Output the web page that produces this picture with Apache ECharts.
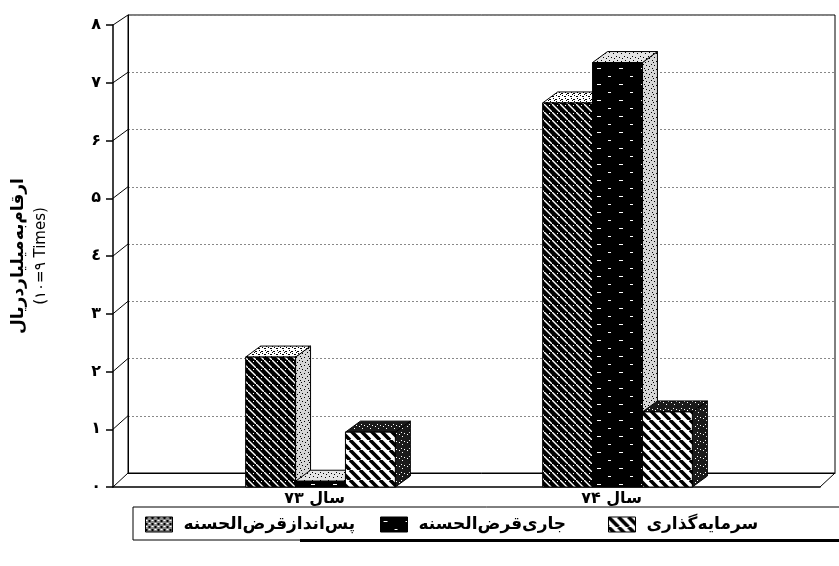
<!DOCTYPE html>
<html><head><meta charset="utf-8">
<script src="https://cdn.jsdelivr.net/npm/echarts@6/dist/echarts.min.js"></script>
<style>html,body{margin:0;padding:0;background:#fff}#c{width:839px;height:566px}</style>
</head><body><div id="c"></div>
<script>
// ---- data ----
const categories = ['سال ۷۳', 'سال ۷۴'];
const seriesNames = ['پس‌اندازقرض‌الحسنه', 'جاری‌قرض‌الحسنه', 'سرمایه‌گذاری'];
const savingsValues = [2.25, 6.65];
const currentValues = [0.1, 7.35];
const investValues = [0.95, 1.3];
const yTickLabels = ['۰', '۱', '۲', '۳', '٤', '۵', '۶', '۷', '۸'];
const yAxisTitle = 'ارقام‌به‌میلیارد‌ریال';
const yAxisSub = '(۱۰=۹ Times)';

// ---- patterns ----
function pat(w, h, draw) {
  const c = document.createElement('canvas'); c.width = w; c.height = h;
  const g = c.getContext('2d'); draw(g, w, h);
  return { image: c, repeat: 'repeat' };
}
function stipple(bg, dot, step, seedShift) {
  return pat(8, 8, (g, w, h) => {
    g.fillStyle = bg; g.fillRect(0, 0, w, h);
    g.fillStyle = dot;
    const pts = [[0,0],[3,1],[6,2],[1,4],[5,5],[2,6],[7,7],[4,3]];
    pts.slice(0, step).forEach(p => g.fillRect((p[0] + seedShift) % 8, p[1], 1, 1));
  });
}
const diagWhite = pat(8, 8, (g, w, h) => {
  g.fillStyle = '#000'; g.fillRect(0, 0, w, h);
  g.strokeStyle = '#fff'; g.lineWidth = 1.4;
  g.beginPath(); g.moveTo(-1, -1); g.lineTo(9, 9); g.stroke();
  g.fillStyle = '#fff'; g.fillRect(5, 1, 1, 1);
});
const darkDashes = pat(22, 16, (g, w, h) => {
  g.fillStyle = '#000'; g.fillRect(0, 0, w, h);
  g.fillStyle = '#fff'; g.fillRect(3, 4, 4, 1); g.fillRect(14, 12, 3, 1);
});
const stripes = pat(10, 10, (g, w, h) => {
  g.fillStyle = '#fff'; g.fillRect(0, 0, w, h);
  g.strokeStyle = '#000'; g.lineWidth = 3.6;
  g.beginPath();
  g.moveTo(-10, 0); g.lineTo(0, 10);
  g.moveTo(0, 0); g.lineTo(10, 10);
  g.moveTo(10, 0); g.lineTo(20, 10);
  g.stroke();
});
const crossHatch = pat(6, 6, (g, w, h) => {
  g.fillStyle = '#fff'; g.fillRect(0, 0, w, h);
  g.fillStyle = '#000';
  g.fillRect(0, 0, 2, 1); g.fillRect(3, 3, 2, 1); g.fillRect(1, 2, 1, 1); g.fillRect(4, 5, 1, 1); g.fillRect(2, 4, 1, 1);
});
const legendHatch = pat(6, 6, (g, w, h) => {
  g.fillStyle = '#888'; g.fillRect(0, 0, w, h);
  g.fillStyle = '#000';
  g.fillRect(0, 0, 2, 2); g.fillRect(3, 3, 2, 2);
  g.fillStyle = '#fff';
  g.fillRect(3, 0, 2, 1); g.fillRect(0, 3, 2, 1);
});
const lightStip = stipple('#e4e4e4', '#000', 5, 0);
const lightStip2 = stipple('#d6d6d6', '#000', 6, 3);
const darkStip = stipple('#1a1a1a', '#fff', 4, 1);

const faceStyles = [
  { front: diagWhite, top: crossHatch, side: lightStip2 },
  { front: darkDashes, top: lightStip, side: lightStip2 },
  { front: stripes, top: darkStip, side: darkStip }
];
const legendColors = [legendHatch, darkDashes, stripes];
const legendLefts = [140, 375, 603];

const DX = 15, DY = -11;

function makeRender(si) {
  return function (params, api) {
    const cat = api.value(0), v = api.value(1);
    const base = api.coord([cat, 0]);
    const top = api.coord([cat, v]);
    const band = api.size([1, 0])[0];
    const bw = band * 0.168;
    const x0 = base[0] + DX * 0.4 + (si - 1.5) * bw;
    const x1 = x0 + bw, yb = base[1], yt = top[1];
    const st = faceStyles[si];
    return {
      type: 'group',
      children: [
        { type: 'polygon', shape: { points: [[x1, yb], [x1 + DX, yb + DY], [x1 + DX, yt + DY], [x1, yt]] },
          style: { fill: st.side, stroke: '#000', lineWidth: 1 } },
        { type: 'polygon', shape: { points: [[x0, yt], [x1, yt], [x1 + DX, yt + DY], [x0 + DX, yt + DY]] },
          style: { fill: st.top, stroke: '#000', lineWidth: 1 } },
        { type: 'rect', shape: { x: x0, y: yt, width: bw, height: yb - yt },
          style: { fill: st.front, stroke: '#000', lineWidth: 1 } }
      ]
    };
  };
}

const allValues = [savingsValues, currentValues, investValues];
const FONT = 'DejaVu Sans';

const chart = echarts.init(document.getElementById('c'), null, { renderer: 'canvas' });
const option = {
  animation: false,
  backgroundColor: '#fff',
  textStyle: { fontFamily: FONT },
  grid: [
    { left: 128, right: 4, top: 15, bottom: 93, show: true, borderColor: '#000', borderWidth: 1, backgroundColor: 'transparent' },
    { left: 113, right: 19, top: 25, bottom: 79 },
    { left: 166, right: 79, top: 25, bottom: 79 }
  ],
  xAxis: [
    { gridIndex: 0, type: 'category', data: categories, axisLine: { show: true, lineStyle: { color: '#000' } }, axisTick: { show: false }, axisLabel: { show: false } },
    { gridIndex: 1, type: 'category', data: categories, axisLine: { show: true, lineStyle: { color: '#000', width: 1.5 } }, axisTick: { show: false }, axisLabel: { show: false } },
    { gridIndex: 2, type: 'category', data: categories, axisLine: { show: false }, axisTick: { show: false },
      axisLabel: { show: true, color: '#000', fontFamily: FONT, fontWeight: 'bold', fontSize: 16, lineHeight: 18, margin: 3 } }
  ],
  yAxis: [
    { gridIndex: 0, type: 'value', min: 0, max: 8, interval: 1, axisLine: { show: true, lineStyle: { color: '#000' } },
      axisTick: { show: false }, axisLabel: { show: false },
      splitLine: { show: true, lineStyle: { color: '#888', type: [2, 2], width: 1 } } },
    { gridIndex: 1, type: 'value', min: 0, max: 8, interval: 1,
      axisLine: { show: true, lineStyle: { color: '#000', width: 1.5 } },
      axisTick: { show: true, inside: false, length: 7, lineStyle: { color: '#000', width: 1.5 } },
      axisLabel: { show: true, color: '#000', fontFamily: FONT, fontWeight: 'bold', fontSize: 16, margin: 12,
        formatter: (val) => yTickLabels[Math.round(val)] },
      splitLine: { show: false },
      name: '{a|' + yAxisTitle + '}\n{b|' + yAxisSub + '}',
      nameLocation: 'middle', nameRotate: 90, nameGap: 60,
      nameTextStyle: { color: '#000', fontFamily: FONT,
        rich: { a: { fontWeight: 'bold', fontSize: 17, fontFamily: FONT, lineHeight: 23, color: '#000' },
                b: { fontWeight: 'normal', fontSize: 15, fontFamily: FONT, lineHeight: 23, color: '#000' } } } },
    { gridIndex: 2, type: 'value', min: 0, max: 8, interval: 1, show: false, splitLine: { show: false } }
  ],
  legend: seriesNames.map((nm, i) => ({
    left: legendLefts[i], top: 511, itemWidth: 27, itemHeight: 15, icon: 'rect',
    selectedMode: false,
    data: [nm],
    itemStyle: { borderColor: '#000', borderWidth: 1 },
    textStyle: { color: '#000', fontFamily: FONT, fontWeight: 'bold', fontSize: 17, padding: [0, 0, 0, 6] }
  })),
  series: allValues.map((vals, si) => ({
    name: seriesNames[si],
    type: 'custom',
    xAxisIndex: 2, yAxisIndex: 2,
    itemStyle: { color: legendColors[si] },
    renderItem: makeRender(si),
    encode: { x: 0, y: 1 },
    data: vals.map((v, i) => [i, v]),
    z: 5 + si
  }))
};
chart.setOption(option);

// 3D frame decorations: depth connectors between front axis and back wall
const deco = [];
for (let v = 0; v <= 8; v++) {
  const f = chart.convertToPixel({ gridIndex: 1 }, [0, v]);
  const b = chart.convertToPixel({ gridIndex: 0 }, [0, v]);
  deco.push({ type: 'line', shape: { x1: 113, y1: f[1], x2: 128, y2: b[1] }, style: { stroke: '#000', lineWidth: 1 }, z: 3 });
}
const f0 = chart.convertToPixel({ gridIndex: 1 }, [0, 0]);
const b0 = chart.convertToPixel({ gridIndex: 0 }, [0, 0]);
deco.push({ type: 'line', shape: { x1: 820, y1: f0[1], x2: 835, y2: b0[1] }, style: { stroke: '#000', lineWidth: 1 }, z: 3 });
// legend frame
deco.push({ type: 'rect', shape: { x: 133, y: 507, width: 720, height: 33 }, style: { fill: 'none', stroke: '#000', lineWidth: 1 }, z: 1 });
deco.push({ type: 'rect', shape: { x: 300, y: 539, width: 545, height: 3 }, style: { fill: '#000' }, z: 1 });
chart.setOption({ graphic: deco });
</script>
</body></html>
